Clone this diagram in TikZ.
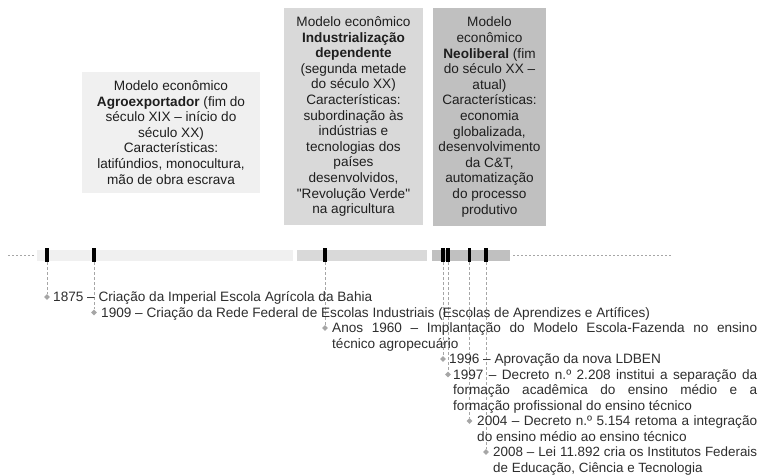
\documentclass[tikz,border=0pt]{standalone}
\usepackage{fontspec}
\setmainfont{Liberation Sans}[Ligatures=TeXOff]
\usepackage{xcolor}
\usepackage{tikz}
\usetikzlibrary{shapes.geometric}

\definecolor{ageA}{HTML}{F0F0F0}
\definecolor{ageB}{HTML}{D9D9D9}
\definecolor{ageC}{HTML}{C0C0C0}
\definecolor{ink}{HTML}{1E1E1E}
\definecolor{evink}{HTML}{2E2E2E}
\definecolor{rulegray}{HTML}{A6A6A6}

\newcommand{\evfont}{\fontsize{13.6}{15.6}\selectfont}
\newcommand{\evpar}{\tolerance=9999 \hyphenpenalty=10000 \exhyphenpenalty=10000}

\begin{document}
\begin{tikzpicture}[x=1pt, y=-1pt,
    erabox/.style={inner sep=0pt, align=center, text=ink, font=\evfont},
    yeartick/.style={fill=black, inner sep=0pt, minimum width=3.5pt, minimum height=14pt},
    diamark/.style={diamond, fill=rulegray, inner sep=0pt, minimum size=6pt},
    dropline/.style={rulegray, line width=0.8pt, dash pattern=on 3pt off 2pt},
    evtext/.style={inner sep=0pt, anchor=base west, text=evink, font=\evfont\evpar},
    dotrule/.style={rulegray, line width=1.5pt, dash pattern=on 1.5pt off 2.5pt}]
    \useasboundingbox (0,0) rectangle (761,475);
    \fill[white] (0,0) rectangle (761,475);

    % periods
    \node[erabox, fill=ageA, minimum width=178pt, minimum height=121pt] (agro) at (171,132.5)
        {Modelo econômico\\ \textbf{Agroexportador} (fim do\\ século XIX – início do\\
         século XX)\\ Características:\\ latifúndios, monocultura,\\ mão de obra escrava};
    \node[erabox, fill=ageB, minimum width=139pt, minimum height=217pt] (indus) at (353.5,116.5)
        {Modelo econômico\\ \textbf{Industrialização}\\ \textbf{dependente}\\ (segunda metade\\
         do século XX)\\ Características:\\ subordinação às\\ indústrias e\\ tecnologias dos\\
         países\\ desenvolvidos,\\ "Revolução Verde"\\ na agricultura};
    \node[erabox, fill=ageC, minimum width=113pt, minimum height=218pt] (neo) at (489.5,117)
        {Modelo\\ econômico\\ \textbf{Neoliberal} (fim\\ do século XX –\\ atual)\\
         Características:\\ economia\\ globalizada,\\ desenvolvimento\\ da C\&T,\\
         automatização\\ do processo\\ produtivo};

    % time bar
    \draw[dotrule] (8,255.5) -- (35,255.5);
    \fill[ageA] (37,250) rectangle (293,261);
    \fill[ageB] (297,250) rectangle (427,261);
    \fill[ageC] (432,250) rectangle (510,261);
    \draw[dotrule] (513,255.5) -- (672,255.5);

    \foreach \yr/\tx/\by in {1875/47/301.5, 1909/94/317, 1960/325/332.5, 1996/443/363.5,
                             1997/448/379, 2004/469.5/425.5, 2008/486/456.5} {
        \node[yeartick] (t\yr) at (\tx,255) {};
        \node[diamark] (m\yr) at (\tx,{\by-4.5}) {};
        \draw[dropline] (t\yr.south) -- (m\yr.north);
    }

    % events
    \node[evtext] (e1875) at (53,301.5) {1875 – Criação da Imperial Escola Agrícola da Bahia};
    \node[evtext] (e1909) at (101,317)
        {1909 – Criação da Rede Federal de Escolas Industriais (Escolas de Aprendizes e Artífices)};
    \node[evtext, text width=425pt, align=justify] (e1960) at (332,332.5)
        {Anos 1960 – Implantação do Modelo Escola-Fazenda no ensino\linebreak técnico agropecuário};
    \node[evtext] (e1996) at (449,363.5) {1996 – Aprovação da nova LDBEN};
    \node[evtext, text width=304pt, align=justify] (e1997) at (453,379)
        {1997 – Decreto n.º 2.208 institui a separação da\linebreak formação acadêmica do ensino
         médio e a\linebreak formação profissional do ensino técnico};
    \node[evtext, text width=280pt, align=justify] (e2004) at (477,425.5)
        {2004 – Decreto n.º 5.154 retoma a integração\linebreak do ensino médio ao ensino técnico};
    \node[evtext, text width=264pt, align=justify, font=\fontsize{13.4}{15.5}\selectfont\evpar]
        (e2008) at (493,456.5)
        {2008 – Lei 11.892 cria os Institutos Federais\linebreak de Educação, Ciência e Tecnologia};
\end{tikzpicture}
\end{document}
